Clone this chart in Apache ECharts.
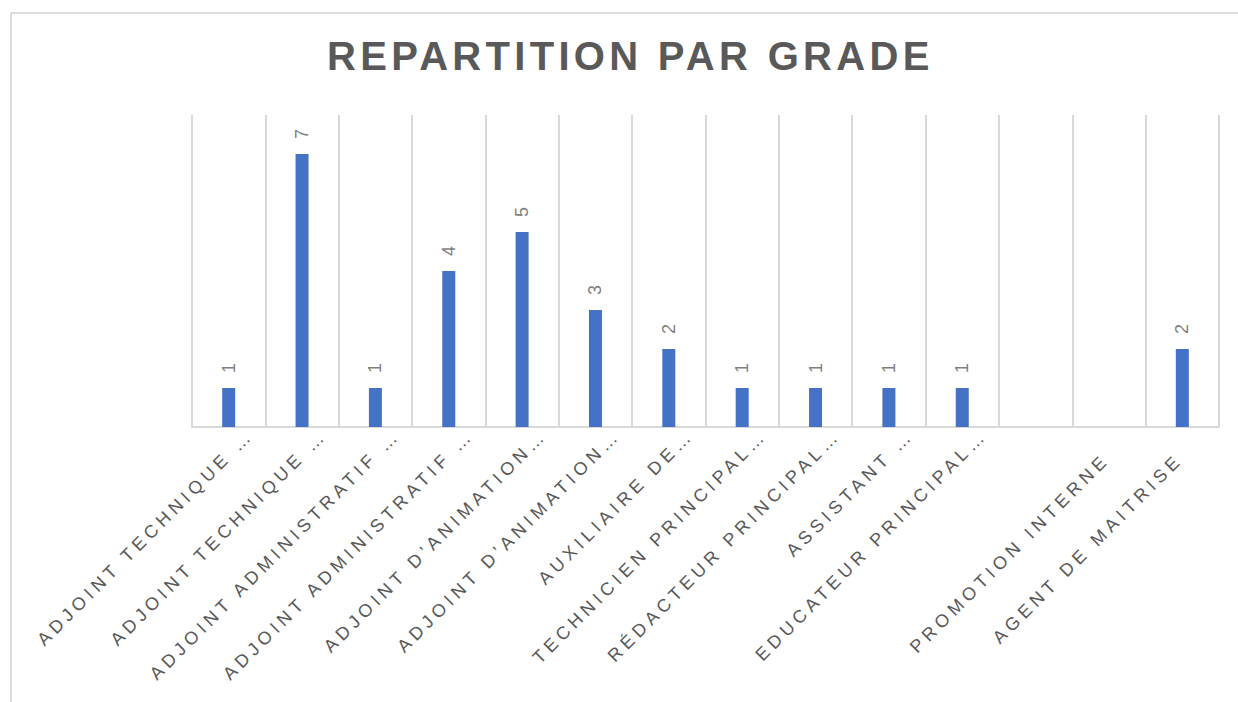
<!DOCTYPE html>
<html>
<head>
<meta charset="utf-8">
<script src="https://cdn.jsdelivr.net/npm/echarts@6/dist/echarts.min.js"></script>
<style>
  html, body { margin: 0; padding: 0; background: #fff; }
  .frame {
    position: absolute; left: 10px; top: 12px;
    width: 1300px; height: 760px;
    border: 2px solid #dcdcdc; box-sizing: border-box;
  }
  #main { position: absolute; left: 0; top: 0; width: 1238px; height: 702px; }
  /* excel style spaced letters */
  #main text { letter-spacing: 4.6px; }
  #main text[style*="40px"] { letter-spacing: 4.3px; }
</style>
</head>
<body>
<div class="frame"></div>
<div id="main"></div>
<script>
  var titleText = 'REPARTITION PAR GRADE';
  var grades = [
    'ADJOINT TECHNIQUE …',
    'ADJOINT TECHNIQUE …',
    'ADJOINT ADMINISTRATIF …',
    'ADJOINT ADMINISTRATIF …',
    'ADJOINT D’ANIMATION…',
    'ADJOINT D’ANIMATION…',
    'AUXILIAIRE DE…',
    'TECHNICIEN PRINCIPAL…',
    'RÉDACTEUR PRINCIPAL…',
    'ASSISTANT …',
    'EDUCATEUR PRINCIPAL…',
    '',
    'PROMOTION INTERNE',
    'AGENT DE MAITRISE'
  ];
  var effectifs = [1, 7, 1, 4, 5, 3, 2, 1, 1, 1, 1, null, null, 2];

  // les libellés tronqués sont décalés comme dans excel
  var xData = grades.map(function (g) {
    var cut = g.charAt(g.length - 1) === '…';
    return {value: g, textStyle: {padding: [0, cut ? -31 : 4, 0, 0]}};
  });

  var chart = echarts.init(document.getElementById('main'), null, {renderer: 'svg'});
  chart.setOption({
    animation: false,
    textStyle: {fontFamily: 'Liberation Sans'},
    title: {
      text: titleText,
      left: 327,
      top: 36,
      padding: 0,
      textStyle: {
        fontFamily: 'Liberation Sans',
        fontSize: 40,
        fontWeight: 'bold',
        color: '#595959'
      }
    },
    grid: {left: 192, right: 19, top: 115, bottom: 275, containLabel: false},
    xAxis: {
      type: 'category',
      data: xData,
      axisLine: {lineStyle: {color: '#d9d9d9', width: 2}},
      axisTick: {show: false},
      splitLine: {show: true, lineStyle: {color: '#d9d9d9', width: 2}},
      axisLabel: {
        interval: 0,
        rotate: 45,
        margin: 27,
        fontSize: 18,
        color: '#595959'
      }
    },
    yAxis: {
      type: 'value',
      min: 0,
      max: 8,
      show: false,
      splitLine: {show: false}
    },
    series: [{
      type: 'bar',
      data: effectifs,
      barWidth: 13,
      itemStyle: {color: '#4472c4'},
      label: {
        show: true,
        position: 'top',
        rotate: 90,
        align: 'left',
        verticalAlign: 'middle',
        distance: 15,
        fontSize: 18,
        color: '#7f7f7f'
      }
    }]
  });
</script>
</body>
</html>
